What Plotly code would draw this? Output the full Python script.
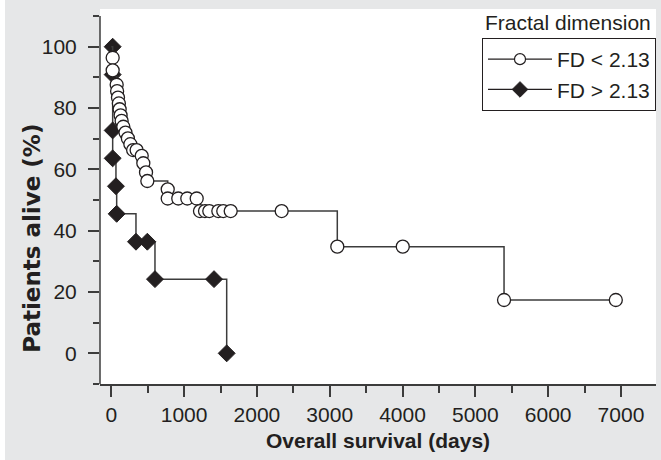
import plotly.graph_objects as go

# ---- data ----
fd_low_days = [19, 19, 74, 80, 92, 104, 115, 128, 142, 165, 195, 228, 262, 300, 348, 418, 440,
               477, 495, 775, 775, 920, 1044, 1173, 1218, 1287, 1346, 1470, 1538, 1640, 2340,
               3104, 4003, 5394, 6929]
fd_low_surv = [96.4, 92.3, 87.6, 85.5, 83.4, 81.5, 79.6, 77.6, 75.8, 73.9, 72.0, 70.1, 68.2, 66.3,
               66.3, 64.4, 62.0, 59.0, 56.2, 53.5, 50.5, 50.5, 50.5, 50.5, 46.4, 46.4, 46.4, 46.4,
               46.4, 46.4, 46.4, 34.8, 34.8, 17.4, 17.4]

fd_high_days = [19, 19, 19, 19, 64, 74, 339, 495, 600, 1411, 1585]
fd_high_surv = [100, 90.9, 72.7, 63.6, 54.5, 45.5, 36.4, 36.4, 24.2, 24.2, 0]

start_day = [0]
start_surv = [100]

series_names = ["FD < 2.13", "FD > 2.13"]
legend_title = "Fractal dimension"
x_title = "Overall survival (days)"
y_title = "Patients alive (%)"
x_ticks = [0, 1000, 2000, 3000, 4000, 5000, 6000, 7000]
y_ticks = [0, 20, 40, 60, 80, 100]

INK = "#231f20"
LINE = "#3c3c3c"
GRAY = "#e6e7e8"
FONT = "Liberation Sans, Arial, sans-serif"
FS = 21

fig = go.Figure()

# FD > 2.13 (diamonds) drawn first
fig.add_trace(go.Scatter(x=start_day + fd_high_days, y=start_surv + fd_high_surv, mode="lines",
                         line=dict(color=LINE, width=1.5, shape="hv"), showlegend=False,
                         hoverinfo="skip"))
fig.add_trace(go.Scatter(x=fd_high_days, y=fd_high_surv, mode="markers",
                         marker=dict(symbol="diamond", size=13, color=INK,
                                     line=dict(color=INK, width=1)), showlegend=False))
# FD < 2.13 (open circles)
fig.add_trace(go.Scatter(x=start_day + fd_low_days, y=start_surv + fd_low_surv, mode="lines",
                         line=dict(color=LINE, width=1.5, shape="hv"), showlegend=False,
                         hoverinfo="skip"))
fig.add_trace(go.Scatter(x=fd_low_days, y=fd_low_surv, mode="markers",
                         marker=dict(symbol="circle", size=13, color="white",
                                     line=dict(color=INK, width=1.3)), showlegend=False))

# legend entries
fig.add_trace(go.Scatter(x=[None], y=[None], mode="lines+markers", name=series_names[0],
                         line=dict(color=INK, width=1.3),
                         marker=dict(symbol="circle", size=11, color="white",
                                     line=dict(color=INK, width=1.2))))
fig.add_trace(go.Scatter(x=[None], y=[None], mode="lines+markers", name=series_names[1],
                         line=dict(color=INK, width=1.3),
                         marker=dict(symbol="diamond", size=12, color=INK,
                                     line=dict(color=INK, width=1))))

fig.update_layout(
    width=661, height=460,
    margin=dict(l=100, r=5, t=9, b=76),
    paper_bgcolor=GRAY, plot_bgcolor="white",
    font=dict(family=FONT, size=FS, color=INK),
    legend=dict(x=1.0, xanchor="right", y=0.9227, yanchor="top",
                bgcolor="white", bordercolor=INK, borderwidth=1,
                font=dict(size=FS), itemwidth=64, tracegroupgap=0,
                traceorder="normal"),
    xaxis=dict(range=[-155, 7481], tickvals=x_ticks, ticks="outside", ticklen=11,
               tickwidth=1.5, tickcolor=LINE, showline=True, linecolor=LINE, linewidth=1.5,
               showgrid=False, zeroline=False, automargin=False,
               minor=dict(ticks="outside", dtick=500, ticklen=7, tickwidth=1.5, tickcolor=LINE),
               title=dict(text="<b>" + x_title + "</b>", font=dict(size=FS), standoff=8),
               tickfont=dict(size=FS)),
    yaxis=dict(range=[-10, 112.3], tickvals=y_ticks, ticks="outside", ticklen=11,
               tickwidth=1.5, tickcolor=LINE, showline=False, ticklabelstandoff=7,
               showgrid=False, zeroline=False, automargin=False,
               minor=dict(ticks="outside", dtick=10, ticklen=6, tickwidth=1.5, tickcolor=LINE),
               tickfont=dict(size=FS)),
    shapes=[
        dict(type="line", xref="paper", yref="y", x0=0, x1=0, y0=-10, y1=110,
             line=dict(color=LINE, width=1.5)),
        dict(type="rect", xref="paper", yref="paper", x0=-0.19, x1=-0.1709, y0=-0.3, y1=1.1,
             fillcolor="white", line=dict(width=0), layer="below"),
    ],
    annotations=[
        dict(text=legend_title, xref="paper", yref="paper", x=0.9946, y=0.965,
             xanchor="right", yanchor="middle", showarrow=False, font=dict(size=FS, color=INK)),
        dict(text="<b>" + y_title + "</b>", xref="paper", yref="paper", x=-0.1228, y=0.389,
             xanchor="center", yanchor="middle", textangle=-90, showarrow=False,
             font=dict(family="DejaVu Sans, sans-serif", size=23, color=INK)),
    ],
)

fig.write_html("out.html", config={"displayModeBar": False},
               post_script="document.body.style.margin='0';document.body.style.overflow='hidden';")
